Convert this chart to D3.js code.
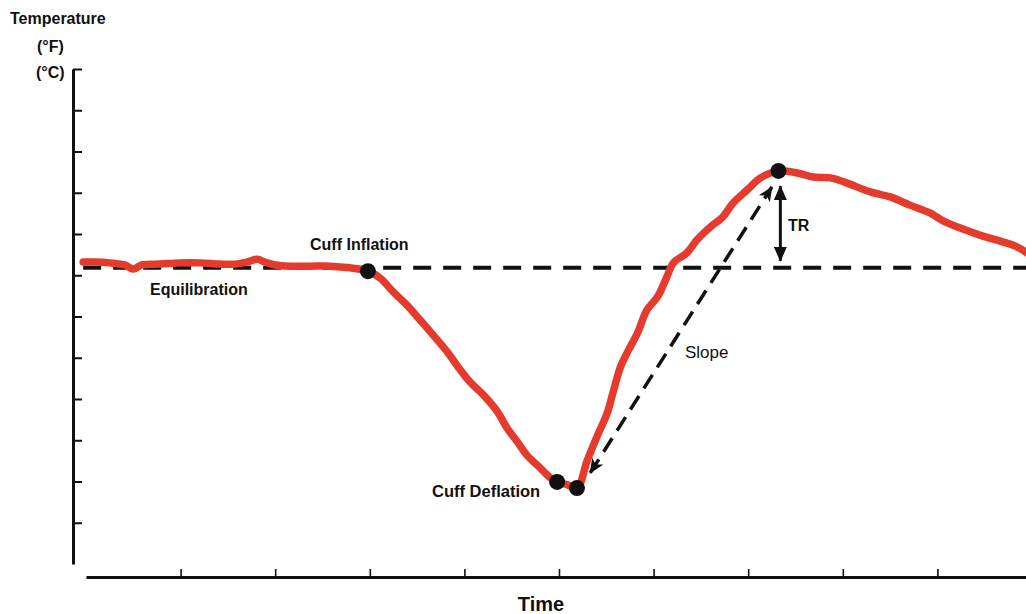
<!DOCTYPE html>
<html>
<head>
<meta charset="utf-8">
<script src="https://cdn.jsdelivr.net/npm/d3@7"></script>
<style>
  body { margin: 0; background: #fff; }
  text { font-family: "Liberation Sans", Arial, Helvetica, sans-serif; fill: #111; }
</style>
</head>
<body>
<svg id="chart" width="1026" height="614"></svg>
<script>
// Skin temperature trace, in axis tick units (time along x, temperature along y)
const timeVals = [
  -0.03, 0.10, 0.25, 0.41, 0.50, 0.59, 0.78, 0.99, 1.21, 1.42, 1.58, 1.70, 1.81, 1.89, 2.00, 2.16, 2.37, 2.58, 2.79, 2.98,
  3.11, 3.25, 3.39, 3.53, 3.67, 3.82, 3.92, 4.06, 4.20, 4.35, 4.45, 4.56, 4.66, 4.80, 4.91, 4.98, 5.09, 5.19,
  5.30, 5.40, 5.51, 5.57, 5.65, 5.72, 5.83, 5.93, 6.04, 6.14, 6.21, 6.35, 6.46, 6.60, 6.73, 6.84, 6.99, 7.13, 7.32,
  7.52, 7.69, 7.87, 8.04, 8.29, 8.50, 8.71, 8.92, 9.06, 9.27, 9.48, 9.69, 9.84, 9.98
];
const tempVals = [
  7.32, 7.32, 7.30, 7.25, 7.15, 7.25, 7.27, 7.30, 7.30, 7.27, 7.27, 7.32, 7.39, 7.32, 7.25, 7.22, 7.22, 7.22, 7.18, 7.10,
  6.93, 6.59, 6.28, 5.92, 5.55, 5.14, 4.82, 4.41, 4.10, 3.69, 3.30, 2.96, 2.64, 2.33, 2.09, 1.99, 1.92, 1.84,
  2.52, 3.08, 3.66, 4.15, 4.78, 5.12, 5.60, 6.16, 6.47, 6.96, 7.30, 7.54, 7.86, 8.17, 8.41, 8.75, 9.07, 9.36, 9.53,
  9.48, 9.38, 9.36, 9.24, 9.02, 8.90, 8.70, 8.51, 8.32, 8.12, 7.95, 7.81, 7.69, 7.49
];

// Key events on the trace: cuff inflation, cuff deflation (two points), peak
const eventTimes = [2.98, 4.98, 5.19, 7.32];
const eventTemps = [7.10, 1.99, 1.84, 9.53];

// Pre-occlusion equilibrium level
const baselineTemp = 7.18;

// Slope arrow (from deflation minimum to peak) and TR arrow (baseline to peak)
const slopeArrowTimes = [5.33, 7.25];
const slopeArrowTemps = [2.21, 9.14];
const trArrowTime = 7.34;
const trArrowTemps = [7.35, 9.16];

const xTickVals = [1, 2, 3, 4, 5, 6, 7, 8, 9];
const yTickVals = [1, 2, 3, 4, 5, 6, 7, 8, 9, 10, 11, 12];

const svg = d3.select("#chart");
const red = "#e53b2c";
const ink = "#111";

const x = d3.scaleLinear().domain([0, 10]).range([86, 1032]);
const y = d3.scaleLinear().domain([0, 12]).range([564, 69]);

// Arrowhead markers
const defs = svg.append("defs");
defs.append("marker")
  .attr("id", "head")
  .attr("viewBox", "0 0 15 13")
  .attr("refX", 14).attr("refY", 6.5)
  .attr("markerWidth", 15).attr("markerHeight", 13)
  .attr("markerUnits", "userSpaceOnUse")
  .attr("orient", "auto-start-reverse")
  .append("path")
  .attr("d", "M0,0 L15,6.5 L0,13 Z")
  .attr("fill", ink);
defs.append("marker")
  .attr("id", "notch")
  .attr("viewBox", "0 0 15 13")
  .attr("refX", 14).attr("refY", 6.5)
  .attr("markerWidth", 15).attr("markerHeight", 13)
  .attr("markerUnits", "userSpaceOnUse")
  .attr("orient", "auto-start-reverse")
  .append("path")
  .attr("d", "M0,0 L15,6.5 L0,13 L4,6.5 Z")
  .attr("fill", ink);

// Y axis: ticks on the inside
const yAxis = d3.axisRight(y).tickValues(yTickVals).tickSize(9).tickSizeOuter(0).tickFormat("");
const gy = svg.append("g").attr("transform", "translate(73,0)").call(yAxis);
gy.select(".domain").attr("stroke", ink).attr("stroke-width", 3);
gy.selectAll(".tick line").attr("stroke", ink).attr("stroke-width", 2);

// X axis: ticks pointing up
const xAxis = d3.axisTop(x).tickValues(xTickVals).tickSize(8).tickSizeOuter(0).tickFormat("");
const gx = svg.append("g").attr("transform", "translate(0,577)").call(xAxis);
gx.select(".domain").attr("stroke", ink).attr("stroke-width", 3);
gx.selectAll(".tick line").attr("stroke", ink).attr("stroke-width", 1.6);

// Baseline dashed line
svg.append("line")
  .attr("x1", x(-0.03)).attr("x2", x(10))
  .attr("y1", y(baselineTemp)).attr("y2", y(baselineTemp))
  .attr("stroke", ink).attr("stroke-width", 4)
  .attr("stroke-dasharray", "18,12");

// Temperature trace
const pts = timeVals.map((t, i) => [t, tempVals[i]]);
svg.append("path")
  .datum(pts)
  .attr("d", d3.line().x(d => x(d[0])).y(d => y(d[1])).curve(d3.curveCatmullRom.alpha(0.5)))
  .attr("fill", "none")
  .attr("stroke", red)
  .attr("stroke-width", 7.5)
  .attr("stroke-linejoin", "round")
  .attr("stroke-linecap", "round");

// Slope arrow (dashed, double headed)
svg.append("line")
  .attr("x1", x(slopeArrowTimes[0])).attr("y1", y(slopeArrowTemps[0]))
  .attr("x2", x(slopeArrowTimes[1])).attr("y2", y(slopeArrowTemps[1]))
  .attr("stroke", ink).attr("stroke-width", 3.5)
  .attr("stroke-dasharray", "16,9")
  .attr("marker-start", "url(#notch)")
  .attr("marker-end", "url(#notch)");

// TR arrow (solid, double headed)
svg.append("line")
  .attr("x1", x(trArrowTime)).attr("y1", y(trArrowTemps[0]))
  .attr("x2", x(trArrowTime)).attr("y2", y(trArrowTemps[1]))
  .attr("stroke", ink).attr("stroke-width", 3)
  .attr("marker-start", "url(#head)")
  .attr("marker-end", "url(#head)");

// Event dots
svg.selectAll("circle.evt")
  .data(eventTimes.map((t, i) => [t, eventTemps[i]]))
  .join("circle")
  .attr("class", "evt")
  .attr("cx", d => x(d[0])).attr("cy", d => y(d[1]))
  .attr("r", 8)
  .attr("fill", ink);

// Labels
const label = (txt, px, py, size, weight, anchor) =>
  svg.append("text").text(txt)
    .attr("x", px).attr("y", py)
    .attr("font-size", size)
    .attr("font-weight", weight)
    .attr("text-anchor", anchor || "start");

label("Temperature", 10, 24, 16, "bold");
label("(°F)", 37, 52, 16, "bold");
label("(°C)", 36, 78, 16, "bold");
label("Cuff Inflation", 310, 250, 16, "bold");
label("Equilibration", 150, 295, 16, "bold");
label("Cuff Deflation", 432, 497, 16.5, "bold");
label("Slope", 685, 358, 17, "normal");
label("TR", 788, 231, 16, "bold");
label("Time", 541, 611, 20, "bold", "middle");
</script>
</body>
</html>
